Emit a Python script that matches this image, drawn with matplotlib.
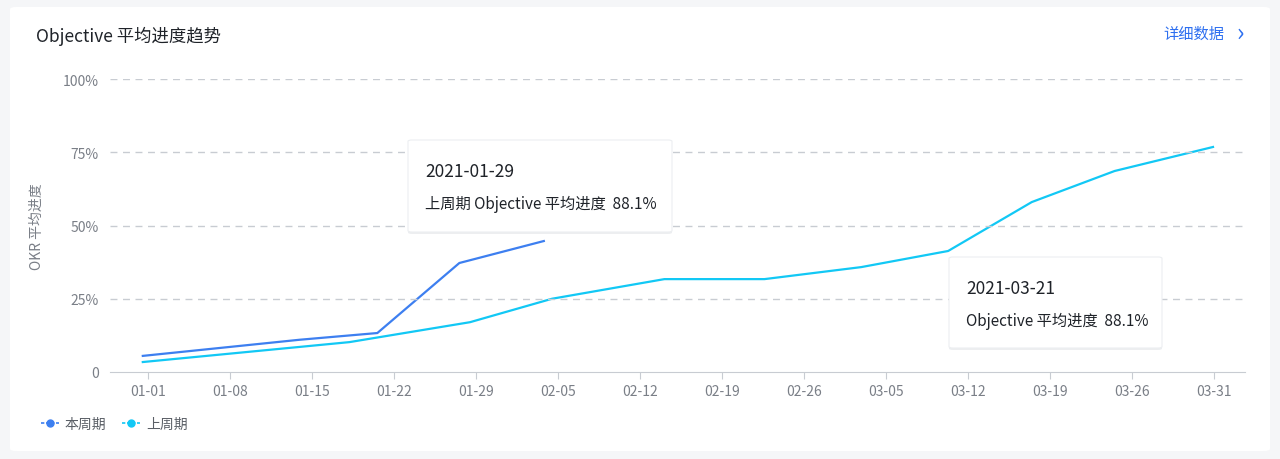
import matplotlib
matplotlib.use("Agg")
import matplotlib.pyplot as plt
from matplotlib.patches import FancyBboxPatch
from matplotlib.lines import Line2D

plt.rcParams['font.family'] = ['Noto Sans CJK SC', 'DejaVu Sans']

tick_labels = ["01-01", "01-08", "01-15", "01-22", "01-29", "02-05", "02-12",
               "02-19", "02-26", "03-05", "03-12", "03-19", "03-26", "03-31"]

# positions in tick units, values in percent
cur_x = [-0.06, 1.85, 2.8, 3.8, 4.83]
cur_y = [5.5, 11.0, 13.3, 37.2, 44.7]
prev_x = [-0.06, 2.46, 3.93, 4.93, 6.3, 7.52, 8.7, 9.76, 10.78, 11.79, 12.99]
prev_y = [3.4, 10.2, 17.0, 25.0, 31.7, 31.7, 35.8, 41.3, 58.0, 68.6, 76.8]

blue = "#3d7ff0"
cyan = "#12c8f5"

fig = plt.figure(figsize=(12.8, 4.6), dpi=100)
fig.patch.set_facecolor("#f5f6f8")
card = FancyBboxPatch((10 / 1280, 8 / 460), 1260 / 1280, 444 / 460,
                      boxstyle="round,pad=0,rounding_size=0.005",
                      transform=fig.transFigure, fc="white", ec="none", zorder=-10)
fig.patches.append(card)

ax = fig.add_axes([110 / 1280, 1 - 373 / 460, 1135 / 1280, 293 / 460])
ax.set_facecolor("none")
ax.plot(cur_x, cur_y, color=blue, lw=1.6)
ax.plot(prev_x, prev_y, color=cyan, lw=1.6)

ax.set_xlim(-0.46, 13.38)
ax.set_ylim(0, 100)
ax.set_xticks(range(len(tick_labels)))
ax.set_xticklabels(tick_labels)
ax.set_yticks([0, 25, 50, 75, 100])
ax.set_yticklabels(["0", "25%", "50%", "75%", "100%"])
ax.tick_params(colors="#7a7f87", labelsize=10, length=0, pad=8)
ax.tick_params(axis="x", length=5, color="#c8ccd2", pad=4)
for y in [25, 50, 75, 100]:
    ax.axhline(y, color="#c8ccd2", lw=1, ls=(0, (5, 4)))
for s in ["top", "right", "left"]:
    ax.spines[s].set_visible(False)
ax.spines["bottom"].set_color("#c8ccd2")
ax.set_ylabel("OKR 平均进度", color="#7a7f87", fontsize=10, labelpad=14)

fig.text(36 / 1280, 1 - 36 / 460, "Objective 平均进度趋势", fontsize=12.5,
         color="#1f2329", va="center")
fig.text(1224 / 1280, 1 - 34 / 460, "详细数据", fontsize=11, color="#2d6ff0",
         va="center", ha="right")
fig.text(1240 / 1280, 1 - 34 / 460, "›", fontsize=18, color="#2d6ff0",
         va="center", ha="center")

# tooltips
def tooltip(x0, y0, w, h, date, text):
    shadow = FancyBboxPatch((x0 / 1280, 1 - (y0 + h + 2) / 460), w / 1280, h / 460,
                            boxstyle="round,pad=0,rounding_size=0.003",
                            transform=fig.transFigure, fc="#e6e8eb", ec="none",
                            alpha=0.7, zorder=5)
    box = FancyBboxPatch((x0 / 1280, 1 - (y0 + h) / 460), w / 1280, h / 460,
                         boxstyle="round,pad=0,rounding_size=0.003",
                         transform=fig.transFigure, fc="white", ec="#eceef1",
                         lw=0.8, zorder=6)
    fig.patches.extend([shadow, box])
    fig.text((x0 + 17) / 1280, 1 - (y0 + 31) / 460, date, fontsize=12.5,
             color="#1f2329", va="center", zorder=7)
    fig.text((x0 + 17) / 1280, 1 - (y0 + 63) / 460, text, fontsize=11,
             color="#1f2329", va="center", zorder=7)

tooltip(408, 141, 264, 92, "2021-01-29", "上周期 Objective 平均进度  88.1%")
tooltip(949, 258, 213, 91, "2021-03-21", "Objective 平均进度  88.1%")

# legend
handles = [Line2D([0], [0], color=blue, lw=1.2, ls=(0, (2, 1)), marker="o", markersize=5),
           Line2D([0], [0], color=cyan, lw=1.2, ls=(0, (2, 1)), marker="o", markersize=5)]
fig.legend(handles, ["本周期", "上周期"], loc="center left",
           bbox_to_anchor=(28 / 1280, 1 - 425 / 460), ncol=2, frameon=False,
           fontsize=10, handlelength=1.3, handletextpad=0.4, columnspacing=1.2,
           labelcolor="#5a5f66")

fig.savefig("out.png", dpi=100, facecolor=fig.get_facecolor())
